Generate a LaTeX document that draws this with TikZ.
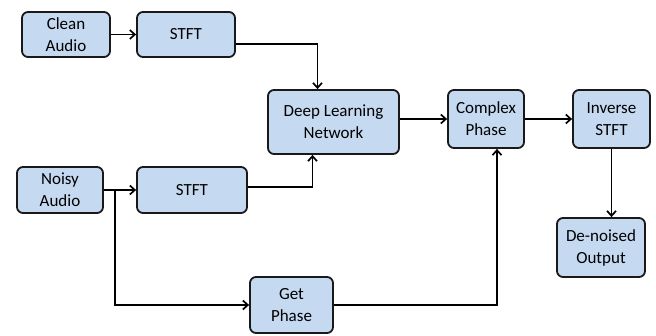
\documentclass[tikz,border=0pt]{standalone}
\usepackage{fontspec}
\setmainfont{Carlito}
\usetikzlibrary{arrows.meta,calc}

\definecolor{boxblue}{RGB}{197,217,241}
\tikzset{
  blk/.style={draw=black!90, line width=1.8pt, fill=boxblue, rounded corners=6pt,
    align=center, inner sep=2pt, font=\fontsize{17}{22}\selectfont},
  arr/.style={line width=1.7pt, -{Straight Barb[length=5pt,width=9pt]}}
}

\begin{document}
\begin{tikzpicture}[x=1pt,y=-1pt]
\useasboundingbox (0,0) rectangle (656,335);
% boxes
\node[blk, minimum width=88, minimum height=45] (clean) at (66,34.5) {Clean\\Audio};
\node[blk, minimum width=98, minimum height=45] (stftA) at (186,34.5) {STFT};
\node[blk, minimum width=86, minimum height=46] (noisy) at (60,190) {Noisy\\Audio};
\node[blk, minimum width=110, minimum height=46] (stftB) at (192,190) {STFT};
\node[blk, minimum width=131, minimum height=64] (deep) at (333.5,122) {Deep Learning\\Network};
\node[blk, minimum width=76, minimum height=58] (complex) at (486,119) {Complex\\Phase};
\node[blk, minimum width=77, minimum height=58] (inverse) at (611.5,119) {Inverse\\STFT};
\node[blk, minimum width=88, minimum height=59] (denoised) at (601,247.5) {De-noised\\Output};
\node[blk, minimum width=83, minimum height=56] (phase) at (291.5,305) {Get\\Phase};
% connectors
\draw[arr] (clean) -- (stftA);
\draw[arr] ([yshift=-9.5]stftA.east) -| ([xshift=-16]deep.north);
\draw[arr] (noisy) -- (stftB);
\draw[arr] ([yshift=3]stftB.east) -| ([xshift=-21]deep.south);
\coordinate (split) at ($(noisy.east)!0.35!(stftB.west)$);
\draw[arr] (split) |- (phase.west);
\draw[arr] (complex.west -| deep.east) -- (complex.west);
\draw[arr] (complex) -- (inverse);
\draw[arr] (phase.east) -| ([xshift=11]complex.south);
\draw[arr] (inverse.south) -- (inverse.south |- denoised.north);
\end{tikzpicture}
\end{document}
